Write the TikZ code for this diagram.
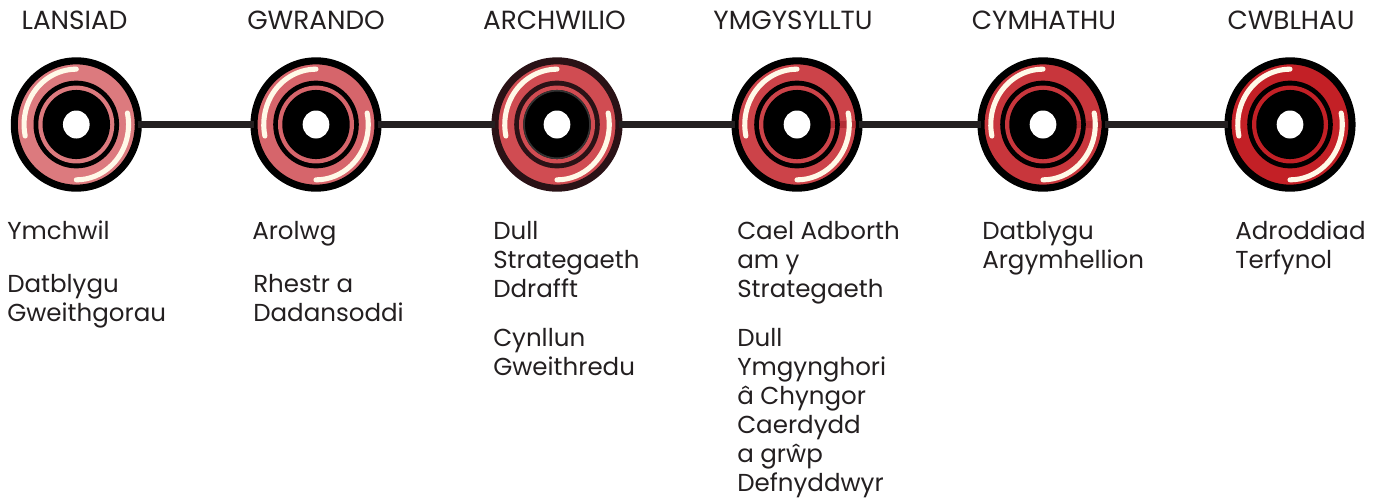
\documentclass[tikz,border=0pt]{standalone}
\usetikzlibrary{shapes.geometric}
\usepackage{fontspec}
\setmainfont{Poppins}
\definecolor{cA}{HTML}{DC7A7E}
\definecolor{cB}{HTML}{D6656B}
\definecolor{cC}{HTML}{D04C52}
\definecolor{cD}{HTML}{CC4349}
\definecolor{cE}{HTML}{C8363C}
\definecolor{cF}{HTML}{C32026}
\definecolor{cream}{HTML}{FFF9E8}
\definecolor{linec}{HTML}{231F20}
\definecolor{maroon}{HTML}{2A1216}
\definecolor{band}{HTML}{A8262C}
\definecolor{edge}{HTML}{333333}
\tikzset{
  disc/.style={ellipse,draw=black,line width=5.3pt,minimum width=93pt,minimum height=95.5pt,inner sep=0pt,outer sep=0pt},
  head/.style={font=\fontsize{19.7}{21}\selectfont,anchor=base,inner sep=0pt,text=linec},
  body/.style={font=\fontsize{18.4}{21.75}\selectfont,anchor=base west,inner sep=0pt,text=linec},
  link/.style={draw=linec,line width=5.6pt},
  shine/.style={draw=cream,line width=3.8pt,line cap=round}
}
\newcommand{\lines}[1]{\begin{tabular}[t]{@{}l@{}}#1\end{tabular}}
\newcommand{\vinyl}[5]{% name, x, colour, rim, band opacity
  \node[disc,fill=#3,draw=#4] (#1) at (#2*0.75pt,-124.5*0.75pt) {};
  \fill[band,opacity=#5] ([shift={(0pt,-2.5pt)}]#1.center) rectangle ([shift={(44pt,3pt)}]#1.center);
  \fill[#4] (#1.center) ellipse [x radius=32.1pt,y radius=32.9pt];
  \fill[#3] (#1.center) ellipse [x radius=28.5pt,y radius=29.2pt];
  \fill[band,opacity=#5] ([shift={(25pt,-2.5pt)}]#1.center) rectangle ([shift={(28.5pt,3pt)}]#1.center);
  \fill[black] (#1.center) ellipse [x radius=25.3pt,y radius=25.9pt];
  \fill[white] (#1.center) ellipse [x radius=10pt,y radius=10.5pt];
  \draw[shine] ([shift={(0pt,41.5pt)}]#1.center) arc [start angle=90,end angle=192,x radius=39.2pt,y radius=41.5pt];
  \draw[shine] ([shift={(38.34pt,8.63pt)}]#1.center) arc [start angle=12,end angle=-90,x radius=39.2pt,y radius=41.5pt];
}
\begin{document}
\begin{tikzpicture}[x=0.75pt,y=-0.75pt]
\useasboundingbox (0,0) rectangle (1383,501);
\vinyl{d1}{76.3}{cA}{black}{0}
\vinyl{d2}{316}{cB}{black}{0}
\vinyl{d3}{557}{cC}{maroon}{0}
\draw[edge,line width=1.2pt] (d3.center) ellipse [x radius=24.7pt,y radius=25.3pt];
\vinyl{d4}{797}{cD}{black}{0.7}
\vinyl{d5}{1043}{cE}{black}{0.6}
\vinyl{d6}{1290}{cF}{black}{0}
\draw[link] (d1) -- (d2);
\draw[link] (d2) -- (d3);
\draw[link] (d3) -- (d4);
\draw[link] (d4) -- (d5);
\draw[link] (d5) -- (d6);
\node[head] (h1) at (74.5,29) {LANSIAD};
\node[head] (h2) at (316,29) {GWRANDO};
\node[head] (h3) at (554.5,29) {ARCHWILIO};
\node[head] (h4) at (793,29) {YMGYSYLLTU};
\node[head] (h5) at (1044,29) {CYMHATHU};
\node[head] (h6) at (1291,29) {CWBLHAU};
\node[body] (a1) at (7,239) {Ymchwil};
\node[body] (a2) at (7,292) {\lines{Datblygu\\Gweithgorau}};
\node[body] (b1) at (252,239) {Arolwg};
\node[body] (b2) at (253,292) {\lines{Rhestr a\\Dadansoddi}};
\node[body] (c1) at (493,239) {\lines{Dull\\Strategaeth\\Ddrafft}};
\node[body] (c2) at (493,346) {\lines{Cynllun\\Gweithredu}};
\node[body] (e1) at (737,239) {\lines{Cael Adborth\\am y\\Strategaeth}};
\node[body] (e2) at (737,346) {\lines{Dull\\Ymgynghori\\â Chyngor\\Caerdydd\\a grŵp\\Defnyddwyr}};
\node[body] (f1) at (982,239) {\lines{Datblygu\\Argymhellion}};
\node[body] (g1) at (1235,239) {\lines{Adroddiad\\Terfynol}};
\end{tikzpicture}
\end{document}
